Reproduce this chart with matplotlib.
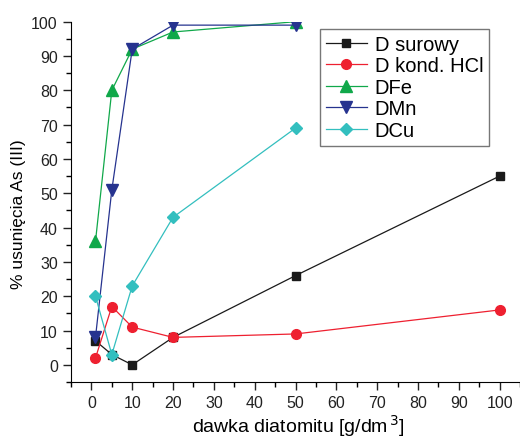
import numpy as np
import matplotlib
matplotlib.use('Agg')
import matplotlib.pyplot as plt
from matplotlib.ticker import MultipleLocator

# data
x_all = [1, 5, 10, 20, 50, 100]
x_short = [1, 5, 10, 20, 50]
surowy = [7, 3, 0, 8, 26, 55]
kond_hcl = [2, 17, 11, 8, 9, 16]
dfe = [36, 80, 92, 97, 100]
dmn = [8, 51, 92, 99, 99]
dcu = [20, 3, 23, 43, 69]

plt.rcParams['font.family'] = ['Liberation Sans', 'DejaVu Sans']

fig = plt.figure(figsize=(5.2, 4.39), dpi=100)
ax = fig.add_axes([71/520, 56/439, 449/520, (383-22.7)/439])

ax.plot(x_all, surowy, '-s', color='#1a1a1a', lw=0.9, ms=6, label='D surowy')
ax.plot(x_all, kond_hcl, '-o', color='#ee2030', lw=0.9, ms=7, label='D kond. HCl')
ax.plot(x_short, dfe, '-^', color='#10a84a', lw=0.9, ms=8, label='DFe')
ax.plot(x_short, dmn, '-v', color='#26338f', lw=0.9, ms=8, label='DMn')
ax.plot(x_short, dcu, '-D', color='#33bfbf', lw=0.9, ms=6, label='DCu')

ax.set_xlim(-5, 105)
ax.set_ylim(-5, 100)
ax.xaxis.set_minor_locator(MultipleLocator(5))
ax.yaxis.set_minor_locator(MultipleLocator(5))
ax.set_xticks(np.arange(0, 101, 10))
ax.set_yticks(np.arange(0, 101, 10))
ax.spines['top'].set_visible(False)
ax.spines['right'].set_visible(False)
ax.tick_params(which='major', direction='out', length=6, width=1, labelsize=11.5, colors='#222222')
ax.tick_params(which='minor', direction='out', length=3.5, width=1)

# axis labels placed by hand to match the original layout
fig.text(298 / 520, 6 / 439, 'dawka diatomitu [g/dm$^{\\,3}$]',
         fontsize=14, ha='center', va='baseline')
fig.text(19 / 520, (439 - 214) / 439, '% usunięcia As (III)',
         fontsize=12.5, rotation=90, ha='center', va='center')

leg = ax.legend(loc='upper left', bbox_to_anchor=(0.555, 0.98), fontsize=14.5,
                frameon=True, fancybox=False, edgecolor='#555555',
                handlelength=2.0, handletextpad=0.4, labelspacing=0.12,
                borderpad=0.3, borderaxespad=0)
leg.get_frame().set_linewidth(1)

plt.savefig('out.png', dpi=100)
